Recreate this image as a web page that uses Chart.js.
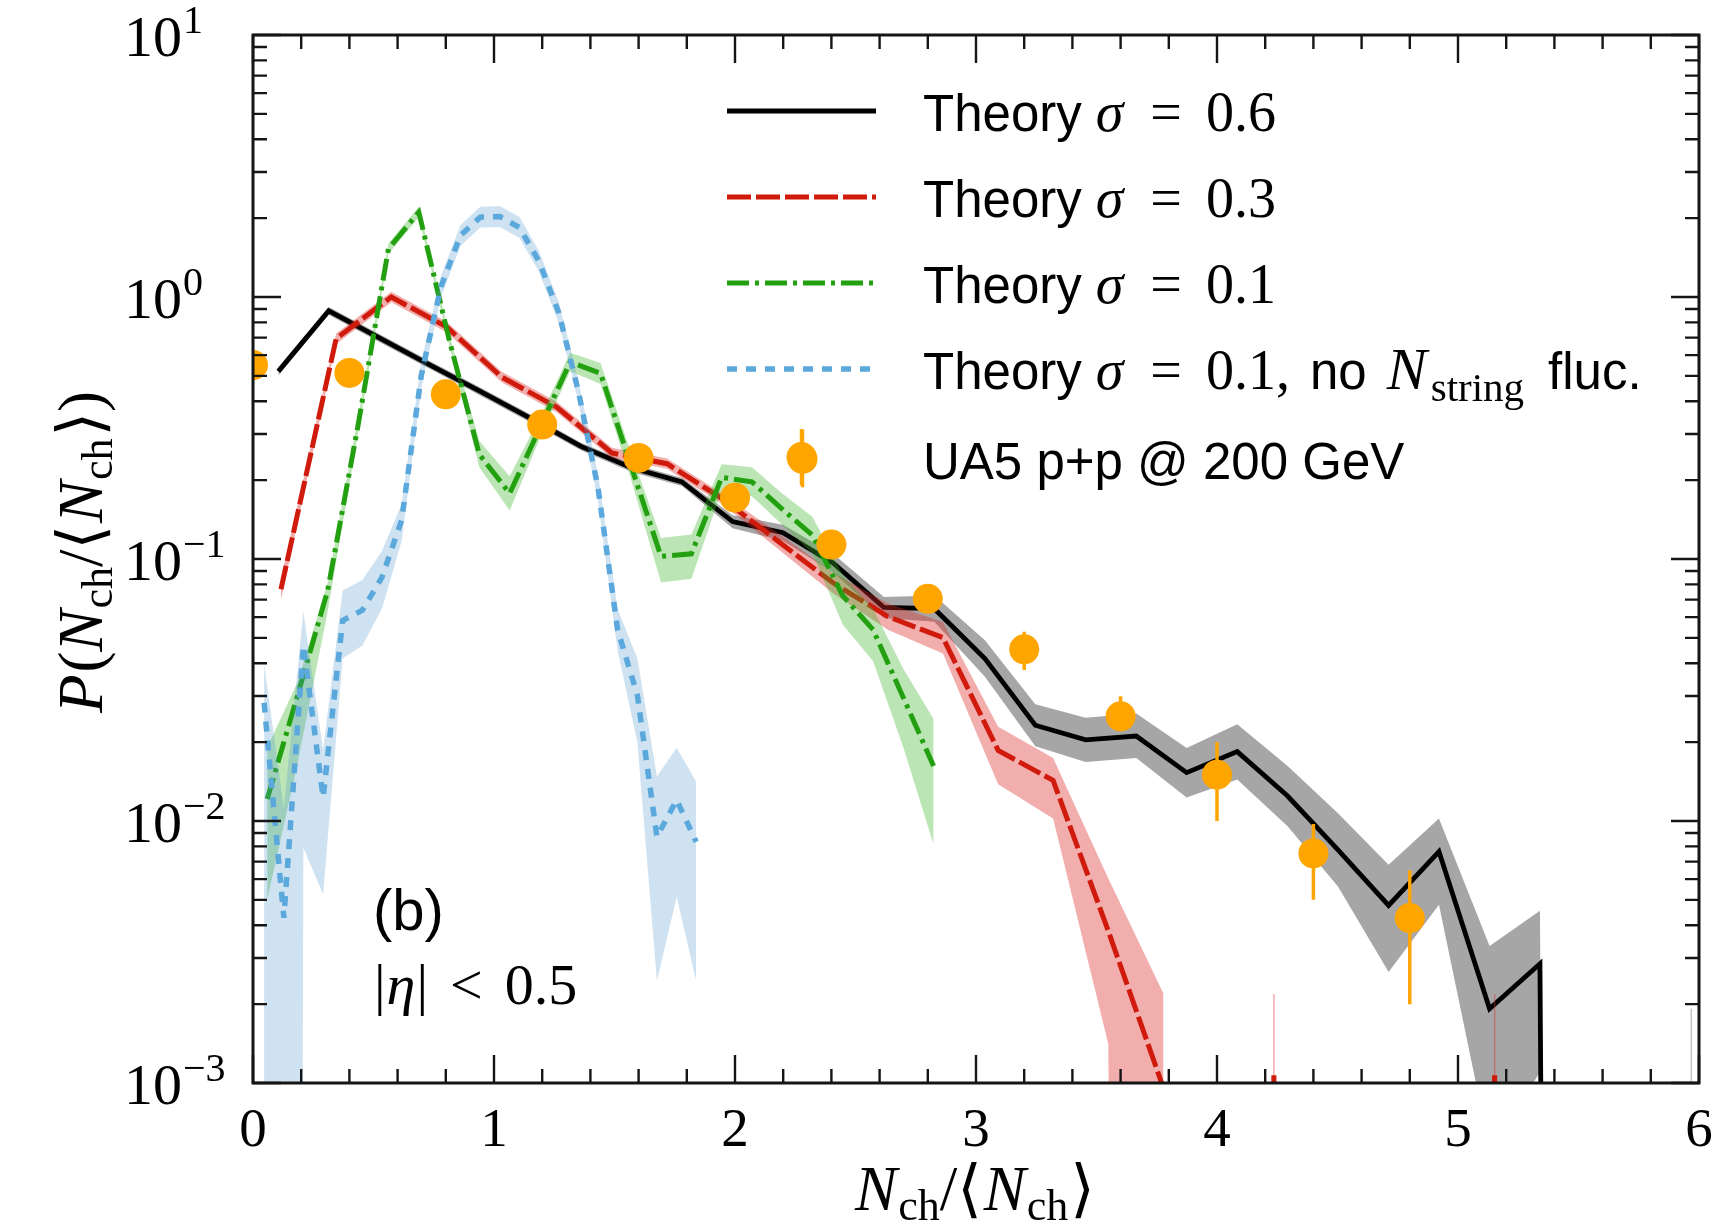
<!DOCTYPE html>
<html>
<head>
<meta charset="utf-8">
<title>P(Nch/&lt;Nch&gt;) UA5 comparison</title>
<script src="https://cdn.jsdelivr.net/npm/chart.js@4.4.1/dist/chart.umd.min.js"></script>
<style>
  html, body { margin: 0; padding: 0; background: #ffffff; overflow: hidden; }
  canvas { display: block; }
</style>
</head>
<body>
<canvas id="plot" width="1727" height="1228"></canvas>
<script>
// empty bin (plotted far below the log axis)
const ZERO = 1e-30;

// Theory sigma = 0.6
const blackX  = [0.105, 0.314, 0.524, 0.733, 0.943, 1.152, 1.361, 1.571, 1.780, 1.990, 2.199, 2.408, 2.618, 2.827, 3.037, 3.246, 3.455, 3.665, 3.874, 4.084, 4.293, 4.502, 4.712, 4.921, 5.131, 5.340, 5.549];
const blackY  = [0.520, 0.885, 0.698, 0.551, 0.436, 0.344, 0.269, 0.223, 0.197, 0.139, 0.126, 0.0964, 0.0653, 0.0646, 0.0417, 0.0232, 0.0204, 0.0211, 0.0153, 0.0184, 0.01245, 0.00776, 0.00476, 0.00764, 0.00192, 0.00285, ZERO];
const blackHi = [0.538, 0.916, 0.722, 0.570, 0.451, 0.356, 0.278, 0.231, 0.204, 0.147, 0.135, 0.1045, 0.0716, 0.0725, 0.0490, 0.0279, 0.0248, 0.0257, 0.0190, 0.0234, 0.0162, 0.0107, 0.00681, 0.01023, 0.00333, 0.00454, ZERO];
const blackLo = [0.502, 0.855, 0.674, 0.532, 0.421, 0.332, 0.260, 0.215, 0.190, 0.131, 0.1175, 0.0889, 0.0596, 0.0576, 0.0355, 0.0193, 0.0168, 0.0174, 0.0123, 0.0144, 0.00955, 0.00562, 0.00265, 0.00479, 0.000562, 0.001096, ZERO];
const graySpikeX = [5.968];
const graySpikeTop = [0.00192];

// Theory sigma = 0.3
const redX  = [0.116, 0.345, 0.574, 0.803, 1.032, 1.260, 1.489, 1.718, 1.947, 2.176, 2.405, 2.634, 2.863, 3.092, 3.320, 3.549, 3.778, 4.007, 4.236, 4.465, 4.694, 4.923, 5.152, 5.381];
const redY  = [0.0766, 0.693, 1.000, 0.769, 0.495, 0.380, 0.254, 0.231, 0.170, 0.1175, 0.0813, 0.0603, 0.0501, 0.0186, 0.01429, 0.00380, 0.000955, ZERO, 0.00107, ZERO, ZERO, ZERO, 0.00107, ZERO];
const redBandX = [0.116, 0.345, 0.574, 0.803, 1.032, 1.260, 1.489, 1.718, 1.947, 2.176, 2.405, 2.634, 2.863, 3.092, 3.320, 3.549, 3.778];
const redHi = [0.0840, 0.726, 1.047, 0.805, 0.518, 0.398, 0.266, 0.242, 0.178, 0.126, 0.0891, 0.0677, 0.0575, 0.0229, 0.0174, 0.00603, 0.00219];
const redLo = [0.0699, 0.662, 0.955, 0.734, 0.473, 0.363, 0.243, 0.221, 0.162, 0.1096, 0.0742, 0.0537, 0.0436, 0.0138, 0.01023, 0.00141, ZERO];
const redSpikeX = [4.236, 5.152];
const redSpikeTop = [0.00218, 0.00218];

// Theory sigma = 0.1
const greenX  = [0.059, 0.185, 0.310, 0.436, 0.562, 0.688, 0.813, 0.939, 1.065, 1.190, 1.316, 1.442, 1.567, 1.693, 1.819, 1.945, 2.070, 2.196, 2.322, 2.447, 2.573, 2.699, 2.824];
const greenY  = [0.01213, 0.0302, 0.0759, 0.324, 1.528, 2.109, 0.693, 0.251, 0.178, 0.316, 0.565, 0.511, 0.229, 0.1023, 0.1047, 0.205, 0.197, 0.155, 0.123, 0.0724, 0.0537, 0.0295, 0.0162];
const greenHi = [0.01905, 0.0339, 0.0813, 0.347, 1.600, 2.208, 0.726, 0.282, 0.207, 0.346, 0.612, 0.560, 0.257, 0.1202, 0.1239, 0.230, 0.224, 0.178, 0.1445, 0.0871, 0.0646, 0.0380, 0.0245];
const greenLo = [0.00501, 0.0166, 0.0631, 0.302, 1.459, 2.014, 0.662, 0.224, 0.1533, 0.288, 0.521, 0.466, 0.204, 0.0813, 0.0841, 0.1827, 0.1736, 0.135, 0.1047, 0.0562, 0.0407, 0.01905, 0.00813];

// Theory sigma = 0.1, no N_string fluctuations
const blueX  = [0.046, 0.128, 0.209, 0.291, 0.372, 0.454, 0.535, 0.617, 0.698, 0.780, 0.861, 0.943, 1.024, 1.106, 1.187, 1.269, 1.350, 1.432, 1.513, 1.595, 1.676, 1.758, 1.839];
const blueY  = [0.0283, 0.00427, 0.0468, 0.0123, 0.0582, 0.0638, 0.0851, 0.141, 0.501, 1.096, 1.718, 2.018, 2.028, 1.841, 1.365, 0.871, 0.437, 0.186, 0.0537, 0.0302, 0.00871, 0.01202, 0.00832];
const blueHi = [0.0398, 0.0112, 0.0631, 0.01862, 0.0759, 0.0832, 0.1072, 0.1622, 0.562, 1.202, 1.884, 2.212, 2.224, 2.018, 1.496, 0.955, 0.479, 0.209, 0.0645, 0.0417, 0.01479, 0.01905, 0.01413];
const blueLo = [ZERO, ZERO, 0.0079, 0.00525, 0.0417, 0.0468, 0.0646, 0.1175, 0.447, 0.999, 1.567, 1.841, 1.850, 1.679, 1.245, 0.794, 0.399, 0.1658, 0.0447, 0.01995, 0.00245, 0.00513, 0.00245];

// UA5 p+p @ 200 GeV
const uaX  = [0, 0.4, 0.8, 1.2, 1.6, 2.0, 2.28, 2.4, 2.8, 3.2, 3.6, 4.0, 4.4, 4.8];
const uaY  = [0.550, 0.513, 0.425, 0.326, 0.243, 0.1714, 0.241, 0.1135, 0.0705, 0.0452, 0.0251, 0.01503, 0.00752, 0.00426];
const uaHi = [0.560, 0.523, 0.433, 0.332, 0.248, 0.175, 0.312, 0.118, 0.0775, 0.0528, 0.0299, 0.02004, 0.00975, 0.00649];
const uaLo = [0.540, 0.503, 0.417, 0.320, 0.238, 0.168, 0.188, 0.109, 0.0640, 0.0377, 0.0220, 0.0100, 0.00501, 0.00200];

// axes
const xTicks = [0, 1, 2, 3, 4, 5, 6];
const yTicks = [1e-3, 1e-2, 1e-1, 1, 10];
const yTickExp = ['\u22123', '\u22122', '\u22121', '0', '1'];

const SERIF = '"Liberation Serif", "DejaVu Serif", serif';
const SANS = '"Liberation Sans", "DejaVu Sans", sans-serif';

const C_BLACK = '#000000';
const C_RED = '#cf1a0c';
const C_GREEN = '#22a010';
const C_BLUE = '#5ba8dc';
const C_ORANGE = '#ffa500';

const W_BLACK = 4.8, W_RED = 5, W_GREEN = 5, W_BLUE = 5.5;
const DASH_RED = [24, 5];
const DASH_GREEN = [22, 6, 4, 6];
const DASH_BLUE = [10, 9];

const pts = (xs, ys) => xs.map((x, i) => ({ x, y: ys[i] }));
const segs = (xs, lo, hi) => xs.flatMap((x, i) => [{ x, y: lo[i] }, { x, y: hi[i] }, { x, y: null }]);

const datasets = [];

function addLine(data, color, width, dash, order) {
    datasets.push({
        data, borderColor: color, borderWidth: width, borderDash: dash,
        pointRadius: 0, fill: false, tension: 0, order, clip: 0,
        borderCapStyle: 'butt', borderJoinStyle: 'miter', spanGaps: false
    });
}

function addBand(xs, lo, hi, color, order) {
    datasets.push({ data: pts(xs, lo), borderColor: 'rgba(0,0,0,0)', borderWidth: 0, pointRadius: 0, fill: false, tension: 0, order: order + 1, clip: 0 });
    const loIdx = datasets.length - 1;
    datasets.push({ data: pts(xs, hi), borderColor: 'rgba(0,0,0,0)', borderWidth: 0, pointRadius: 0, tension: 0, order, clip: 0,
        fill: { target: loIdx }, backgroundColor: color });
}

addBand(blackX, blackLo, blackHi, 'rgba(85,85,85,0.52)', 90);
addLine(segs(graySpikeX, graySpikeX.map(() => ZERO), graySpikeTop), 'rgba(90,90,90,0.35)', 1.5, [], 85);
addLine(pts(blackX, blackY), C_BLACK, W_BLACK, [], 80);

addBand(redBandX, redLo, redHi, 'rgba(220,40,40,0.38)', 70);
addLine(segs(redSpikeX, redSpikeX.map(() => ZERO), redSpikeTop), 'rgba(220,40,40,0.4)', 1.5, [], 65);
addLine(pts(redX, redY), C_RED, W_RED, DASH_RED, 60);

addBand(greenX, greenLo, greenHi, 'rgba(60,180,40,0.35)', 50);
addLine(pts(greenX, greenY), C_GREEN, W_GREEN, DASH_GREEN, 40);

addBand(blueX, blueLo, blueHi, 'rgba(80,150,210,0.28)', 30);
addLine(pts(blueX, blueY), C_BLUE, W_BLUE, DASH_BLUE, 20);

addLine(segs(uaX, uaLo, uaHi), C_ORANGE, 3.5, [], 10);
datasets.push({
    data: pts(uaX, uaY), showLine: false, pointRadius: 15, pointHoverRadius: 15,
    pointBackgroundColor: C_ORANGE, pointBorderColor: C_ORANGE, pointBorderWidth: 0, order: 5, clip: 0
});

function runs(ctx, x, y, parts) {
    let cx = x;
    for (const p of parts) {
        ctx.font = p.f;
        ctx.fillText(p.t, cx, y + (p.dy || 0));
        cx += ctx.measureText(p.t).width + (p.sp || 0);
    }
    return cx;
}
function runsWidth(ctx, parts) {
    let w = 0;
    for (const p of parts) { ctx.font = p.f; w += ctx.measureText(p.t).width + (p.sp || 0); }
    return w;
}

const decorations = {
    id: 'decorations',
    afterDraw(chart) {
        const { ctx, chartArea: a, scales: { x, y } } = chart;
        ctx.save();
        ctx.strokeStyle = '#151515';
        ctx.fillStyle = '#000';
        ctx.lineWidth = 2.4;

        // inward ticks on all four sides
        const MAJ = 28, MIN = 14;
        ctx.beginPath();
        for (let i = 0; i <= 30; i++) {
            const px = x.getPixelForValue(i * 0.2);
            const len = i % 5 === 0 ? MAJ : MIN;
            ctx.moveTo(px, a.bottom); ctx.lineTo(px, a.bottom - len);
            ctx.moveTo(px, a.top); ctx.lineTo(px, a.top + len);
        }
        for (let d = -3; d <= 1; d++) {
            for (let m = 1; m <= 9; m++) {
                if (d === 1 && m > 1) break;
                const py = y.getPixelForValue(m * Math.pow(10, d));
                const len = m === 1 ? MAJ : MIN;
                ctx.moveTo(a.left, py); ctx.lineTo(a.left + len, py);
                ctx.moveTo(a.right, py); ctx.lineTo(a.right - len, py);
            }
        }
        ctx.stroke();
        ctx.lineWidth = 3;
        ctx.strokeRect(a.left, a.top, a.right - a.left, a.bottom - a.top);

        // tick labels
        ctx.textBaseline = 'alphabetic';
        ctx.textAlign = 'center';
        ctx.font = '55px ' + SERIF;
        xTicks.forEach(v => ctx.fillText(String(v), x.getPixelForValue(v), a.bottom + 63));
        ctx.textAlign = 'left';
        yTicks.forEach((v, i) => {
            const py = y.getPixelForValue(v);
            runs(ctx, 124, py + 21, [
                { t: '10', f: '58px ' + SERIF, sp: 1 },
                { t: yTickExp[i], f: '40px ' + SERIF, dy: -23 }
            ]);
        });

        // axis titles
        const I = 'italic 63px ' + SERIF, R = '63px ' + SERIF, S = '44px ' + SERIF;
        const xTitle = [
            { t: 'N', f: I, sp: 1 }, { t: 'ch', f: S, dy: 10 }, { t: '/', f: R },
            { t: '\u27E8', f: R, sp: 2 }, { t: 'N', f: I, sp: 1 }, { t: 'ch', f: S, dy: 10, sp: 2 }, { t: '\u27E9', f: R }
        ];
        const xw = runsWidth(ctx, xTitle);
        runs(ctx, 975 - xw / 2, 1210, xTitle);

        const yTitle = [{ t: 'P', f: I, sp: 2 }, { t: '(', f: R }].concat(xTitle, [{ t: ')', f: R }]);
        const yw = runsWidth(ctx, yTitle);
        ctx.save();
        ctx.translate(102, 552);
        ctx.rotate(-Math.PI / 2);
        runs(ctx, -yw / 2, 0, yTitle);
        ctx.restore();

        // legend
        const x0 = 923, lx0 = 727, lx1 = 876;
        const rowY = [111, 197, 283, 369, 457];
        const legendLines = [
            { c: C_BLACK, w: W_BLACK, d: [], s: '0.6' },
            { c: C_RED, w: W_RED, d: DASH_RED, s: '0.3' },
            { c: C_GREEN, w: W_GREEN, d: DASH_GREEN, s: '0.1' },
            { c: C_BLUE, w: W_BLUE, d: DASH_BLUE, s: '0.1' }
        ];
        legendLines.forEach((it, i) => {
            ctx.save();
            ctx.strokeStyle = it.c; ctx.lineWidth = it.w; ctx.setLineDash(it.d); ctx.lineCap = 'butt';
            ctx.beginPath(); ctx.moveTo(lx0, rowY[i]); ctx.lineTo(lx1, rowY[i]); ctx.stroke();
            ctx.restore();
            const parts = [
                { t: 'Theory', f: '51px ' + SANS, sp: 14 },
                { t: '\u03C3', f: 'italic 56px ' + SERIF, sp: 27 },
                { t: '=', f: '56px ' + SERIF, sp: 24 },
                { t: it.s, f: '56px ' + SERIF }
            ];
            if (i === 3) {
                parts.push({ t: ',', f: '56px ' + SERIF, sp: 20 },
                    { t: 'no', f: '51px ' + SANS, sp: 20 },
                    { t: 'N', f: 'italic 60px ' + SERIF, sp: 4 },
                    { t: 'string', f: '41px ' + SERIF, dy: 12, sp: 24 },
                    { t: 'fluc.', f: '51px ' + SANS });
            }
            runs(ctx, x0, rowY[i] + 20, parts);
        });
        // UA5 marker
        const mx = (lx0 + lx1) / 2, my = rowY[4];
        ctx.strokeStyle = C_ORANGE; ctx.lineWidth = 3.5;
        ctx.beginPath(); ctx.moveTo(mx, my - 28); ctx.lineTo(mx, my + 28); ctx.stroke();
        ctx.fillStyle = C_ORANGE;
        ctx.beginPath(); ctx.arc(mx, my, 15, 0, Math.PI * 2); ctx.fill();
        ctx.fillStyle = '#000';
        runs(ctx, x0, my + 22, [{ t: 'UA5 p+p @ 200 GeV', f: '51px ' + SANS }]);

        // panel annotation
        runs(ctx, 373, 930, [{ t: '(b)', f: '58px ' + SANS }]);
        runs(ctx, 374, 1004, [
            { t: '|', f: '58px ' + SERIF, sp: 1 },
            { t: '\u03B7', f: 'italic 58px ' + SERIF, sp: 1 },
            { t: '|', f: '58px ' + SERIF, sp: 22 },
            { t: '<', f: '58px ' + SERIF, sp: 22 },
            { t: '0.5', f: '58px ' + SERIF }
        ]);
        ctx.restore();
    }
};

new Chart(document.getElementById('plot'), {
    type: 'line',
    data: { datasets },
    options: {
        responsive: false,
        animation: false,
        events: [],
        layout: { padding: { top: 35, right: 28, bottom: 0, left: 0 } },
        scales: {
            x: {
                type: 'linear', min: 0, max: 6,
                ticks: { display: false }, grid: { display: false }, border: { display: false },
                afterFit: s => { s.height = 145; }
            },
            y: {
                type: 'logarithmic', min: 1e-3, max: 10,
                ticks: { display: false }, grid: { display: false }, border: { display: false },
                afterFit: s => { s.width = 253; }
            }
        },
        plugins: {
            legend: { display: false },
            tooltip: { enabled: false },
            filler: { propagate: false }
        }
    },
    plugins: [decorations]
});
</script>
</body>
</html>
